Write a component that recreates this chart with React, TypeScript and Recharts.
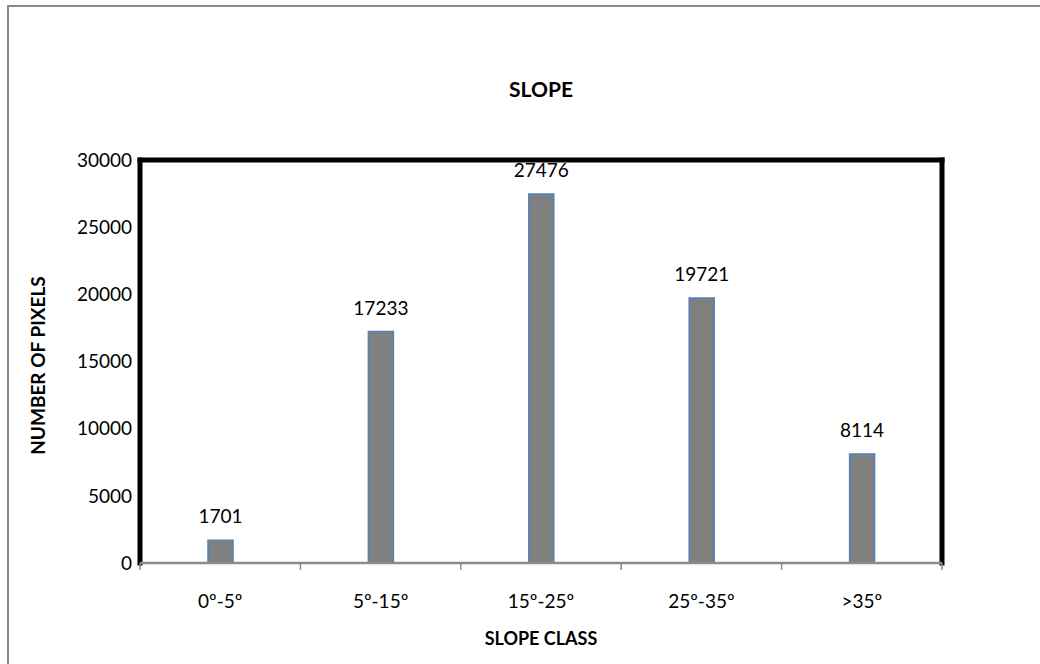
import React from 'react';
import { BarChart, Bar, XAxis, YAxis, LabelList, ReferenceLine } from 'recharts';

const categories = ['0º-5º', '5º-15º', '15º-25º', '25º-35º', '>35º'];
const pixels = [1701, 17233, 27476, 19721, 8114];
const yTicks = [0, 5000, 10000, 15000, 20000, 25000, 30000];
// boundaries (integers) get a tick mark, half steps carry the category name
const edgeTicks = [0, 0.5, 1, 1.5, 2, 2.5, 3, 3.5, 4, 4.5, 5];

const data = categories.map((c, i) => ({ idx: i + 0.5, slope: c, pixels: pixels[i] }));

const font = 'Lato, "Open Sans", sans-serif';

const EdgeTick = (props: any) => {
    const { x, y, payload } = props;
    const v = payload.value;
    if (Number.isInteger(v)) {
        return <line x1={x} x2={x} y1={y} y2={y + 7} stroke="#8c8c8c" strokeWidth={1.5} />;
    }
    return (
        <text x={x} y={y + 45} textAnchor="middle" fontFamily={font} fontSize={19} fill="#000">
            {categories[Math.floor(v)]}
        </text>
    );
};

const YTitle = (props: any) => {
    const vb = props.viewBox;
    const x = vb.x + 37;
    const y = vb.y + vb.height / 2 + 4;
    return (
        <text x={x} y={y} transform={`rotate(-90 ${x} ${y})`} textAnchor="middle" dominantBaseline="central"
            fontFamily={font} fontSize={19} fontWeight="bold" fill="#000">
            NUMBER OF PIXELS
        </text>
    );
};

const XTitle = (props: any) => {
    const vb = props.viewBox;
    return (
        <text x={vb.x + vb.width / 2} y={vb.y + 82} textAnchor="middle"
            fontFamily={font} fontSize={18} fontWeight="bold" fill="#000">
            SLOPE CLASS
        </text>
    );
};

export default function App() {
    return (
        <div style={{ position: 'fixed', left: 0, top: 0, width: 1040, height: 664, overflow: 'hidden', background: '#fff' }}>
            <div style={{ position: 'absolute', left: 7, top: 5, width: 1100, height: 700, borderTop: '2px solid #898989', borderLeft: '2px solid #898989' }} />
            <div style={{ position: 'absolute', left: 0, top: 76, width: 1082, textAlign: 'center', fontFamily: font, fontSize: 21, fontWeight: 'bold' }}>
                SLOPE
            </div>
            <div style={{ position: 'absolute', left: 0, top: 0 }}>
                <BarChart width={1040} height={664} data={data} margin={{ top: 160, right: 98, bottom: 0, left: 0 }}>
                    <XAxis dataKey="slope" hide height={0} />
                    <XAxis xAxisId="edge" dataKey="idx" type="number" domain={[0, 5]} ticks={edgeTicks} interval={0}
                        height={101} tickSize={0} tickMargin={0} tickLine={false} tick={<EdgeTick />}
                        axisLine={{ stroke: '#8c8c8c', strokeWidth: 2.5 }} label={<XTitle />} />
                    <YAxis width={140} domain={[0, 30000]} ticks={yTicks} axisLine={false} tickLine={false}
                        tick={{ fontFamily: font, fontSize: 19, fill: '#000' }} label={<YTitle />} />
                    <ReferenceLine y={30000} stroke="#000" strokeWidth={5} strokeLinecap="square" ifOverflow="visible" />
                    <ReferenceLine xAxisId="edge" x={0} stroke="#000" strokeWidth={5} strokeLinecap="square" ifOverflow="visible" />
                    <ReferenceLine xAxisId="edge" x={5} stroke="#000" strokeWidth={5} strokeLinecap="square" ifOverflow="visible" />
                    <Bar dataKey="pixels" barSize={25} fill="#808080" stroke="#4f81bd" strokeWidth={1.5} isAnimationActive={false}>
                        <LabelList dataKey="pixels" position="top" offset={17} fill="#000" fontFamily={font} fontSize={19} />
                    </Bar>
                </BarChart>
            </div>
        </div>
    );
}
